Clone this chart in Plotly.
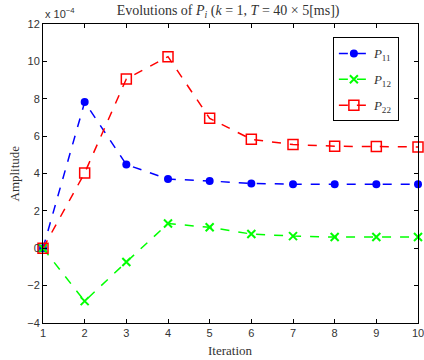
import plotly.graph_objects as go

iterations = [1, 2, 3, 4, 5, 6, 7, 8, 9, 10]
# values in units of 1e-4
p11 = [0.0, 7.82, 4.48, 3.70, 3.60, 3.47, 3.43, 3.43, 3.42, 3.42]
p12 = [0.0, -2.83, -0.74, 1.32, 1.12, 0.76, 0.65, 0.60, 0.60, 0.60]
p22 = [0.0, 4.03, 9.06, 10.25, 6.95, 5.83, 5.55, 5.46, 5.44, 5.42]
y_ticks = [-4, -2, 0, 2, 4, 6, 8, 10, 12]
x_ticks = [1, 2, 3, 4, 5, 6, 7, 8, 9, 10]

serif = "Liberation Serif"
sans = "Liberation Sans"

fig = go.Figure()
fig.add_trace(go.Scatter(
    x=iterations, y=p11, mode="lines+markers", name="<i>P</i><sub>11</sub>",
    legendgroup="a",
    line=dict(color="#0000ff", dash="dash", width=1.5),
    marker=dict(symbol="circle", size=8, color="#0000ff"), cliponaxis=False))
fig.add_trace(go.Scatter(
    x=iterations, y=p12, mode="lines+markers", name="<i>P</i><sub>12</sub>",
    legendgroup="b",
    line=dict(color="#00ff00", dash="dash", width=1.5),
    marker=dict(symbol="x-thin-open", size=8, color="#00ff00",
                line=dict(color="#00ff00", width=2)), cliponaxis=False))
fig.add_trace(go.Scatter(
    x=iterations, y=p22, mode="lines+markers", name="<i>P</i><sub>22</sub>",
    legendgroup="c",
    line=dict(color="#ff0000", dash="dash", width=1.5),
    marker=dict(symbol="square-open", size=10, color="#ff0000",
                line=dict(color="#ff0000", width=1.5)), cliponaxis=False))

axis_common = dict(showgrid=False, zeroline=False, showline=True, linecolor="black",
                   linewidth=1, mirror="ticks", ticks="inside", ticklen=4,
                   tickcolor="black", automargin=False, ticklabeloverflow="allow",
                   tickfont=dict(family=sans, size=11, color="#333"))

fig.update_layout(
    width=424, height=360,
    margin=dict(l=43, r=6, t=24, b=37),
    paper_bgcolor="white", plot_bgcolor="white",
    title=dict(text="Evolutions of <i>P<sub>i</sub></i> (<i>k</i> = 1, <i>T</i> = 40 × 5[ms])",
               x=0.538, xanchor="center", y=0.972, yanchor="middle", automargin=False,
               font=dict(family=serif, size=14, color="#333")),
    xaxis=dict(range=[1, 10], tickvals=x_ticks, **axis_common),
    yaxis=dict(range=[-4, 12], tickvals=y_ticks, **axis_common),
    legend=dict(x=0.773, y=0.955, xanchor="left", yanchor="top",
                bordercolor="black", borderwidth=1, bgcolor="white",
                font=dict(family=serif, size=13, color="#333"),
                itemwidth=30, tracegroupgap=6),
    showlegend=True,
    annotations=[
        dict(text="x 10<sup>−4</sup>", xref="paper", yref="paper",
             x=0.0, y=1.0, xanchor="left", yanchor="bottom", yshift=2,
             showarrow=False, font=dict(family=sans, size=11, color="#333")),
        dict(text="Iteration", xref="paper", yref="paper", x=0.5, y=0,
             xanchor="center", yanchor="middle", yshift=-27, showarrow=False,
             font=dict(family=serif, size=13, color="#333")),
        dict(text="Amplitude", xref="paper", yref="paper", x=0, y=0.5,
             xanchor="center", yanchor="middle", xshift=-29, textangle=-90,
             showarrow=False, font=dict(family=serif, size=13, color="#333")),
    ],
)

fig.write_html("out.html", config={"displayModeBar": False},
               post_script="document.body.style.margin='0';")
